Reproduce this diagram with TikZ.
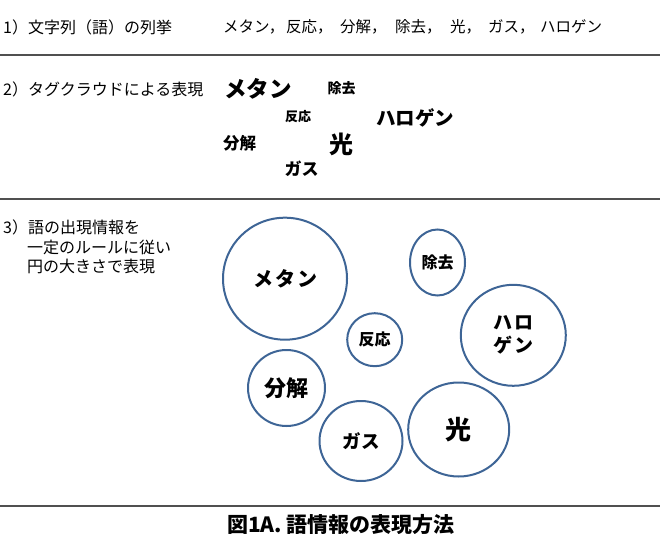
\documentclass[tikz,border=0pt]{standalone}
\usepackage{fontspec}
\setmainfont{Noto Sans CJK JP}
\usetikzlibrary{shapes.geometric}
\definecolor{ringblue}{RGB}{62,101,150}
\definecolor{rulegray}{RGB}{80,80,80}
\tikzset{
  head/.style={anchor=west,inner sep=0pt,font=\fontsize{16}{19}\selectfont},
  tag/.style={inner sep=0pt,font=\bfseries\fontsize{#1}{#1}\selectfont},
  ring/.style={ellipse,draw=ringblue,line width=2pt,inner sep=0pt,align=center},
  rule/.style={draw=rulegray,line width=1.2pt}
}

\begin{document}
\begin{tikzpicture}[x=1pt,y=-1pt]
  \useasboundingbox (0,0) rectangle (660,534);
  \foreach\Y in {55,199,506} {\draw[rule] (0,\Y) -- (660,\Y);}
  % 1) list of words
  \node[head] (hList) at (3,27) {1）文字列（語）の列挙};
  \foreach\W/\X [count=\i] in {メタン，/223,反応，/286,分解，/340,除去，/395,光，/450,ガス，/488,ハロゲン/540} {%
    \node[head,font=\fontsize{15.5}{19}\selectfont] (w\i) at (\X,27) {\W};
  }
  % 2) tag cloud
  \node[head] (hCloud) at (3,89) {2）タグクラウドによる表現};
  \node[tag=22.5] (tMethane) at (258,89)    {メタン};
  \node[tag=14]   (tRemove)  at (341.7,88.5) {除去};
  \node[tag=13]   (tReact)   at (298,116.7) {反応};
  \node[tag=19.5] (tHalogen) at (415,117.7) {ハロゲン};
  \node[tag=16.5] (tDecomp)  at (239.7,143.3) {分解};
  \node[tag=24]   (tLight)   at (341,144)   {光};
  \node[tag=17]   (tGas)     at (301.7,169) {ガス};
  % 3) circles
  \node[head] (hCircA) at (3,227)  {3）語の出現情報を};
  \node[head] (hCircB) at (27,247) {一定のルールに従い};
  \node[head] (hCircC) at (27,266) {円の大きさで表現};
  \node[ring,tag=20,minimum width=124pt,minimum height=122pt] (cMethane) at (285,278.7) {メ\kern2pt タ\kern2pt ン};
  \node[ring,tag=16,minimum width=55pt,minimum height=66pt]   (cRemove)  at (437.5,262.5) {除去};
  \node[ring,tag=16,minimum width=55pt,minimum height=53pt]   (cReact)   at (374.7,339.7) {反応};
  \node[ring,font=\bfseries\fontsize{19}{23}\selectfont,minimum width=105pt,minimum height=101pt] (cHalogen) at (513.3,335.3) {ハ\kern2pt ロ\\ゲ\kern2pt ン};
  \node[ring,tag=22,minimum width=77pt,minimum height=76pt]   (cDecomp)  at (286.5,388) {分解};
  \node[ring,tag=18.5,minimum width=83pt,minimum height=80pt] (cGas)     at (361,441) {ガス};
  \node[ring,tag=26,minimum width=101pt,minimum height=94pt]  (cLight)   at (458.7,429.5) {光};
  % caption
  \node[tag=21] (caption) at (341,525) {図1A. 語情報の表現方法};
\end{tikzpicture}
\end{document}
